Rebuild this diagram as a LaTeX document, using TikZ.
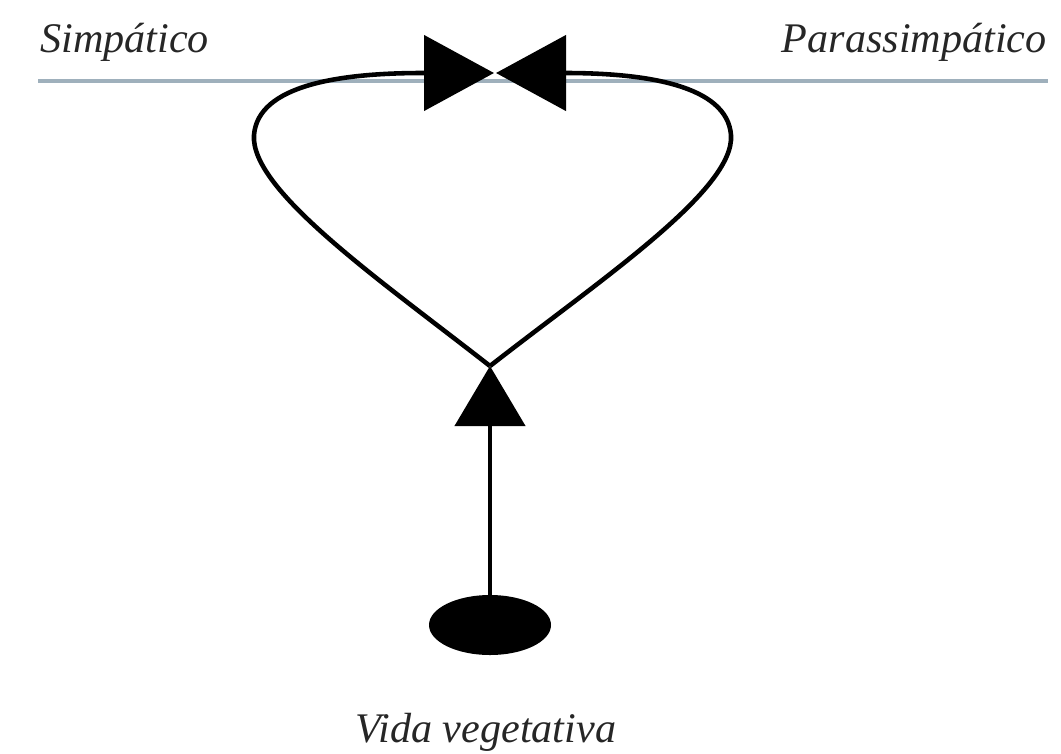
\documentclass[tikz,border=0pt]{standalone}
\usepackage{fontspec}
\setmainfont{Liberation Serif}
\usetikzlibrary{arrows.meta,shapes.geometric}
\definecolor{rulecol}{HTML}{9FB0BC}
\definecolor{txtcol}{HTML}{262626}
\begin{document}
\begin{tikzpicture}[x=0.03cm,y=-0.03cm,
  conn/.style={line width=3.9pt, black},
  bowtip/.style={-{Triangle[length=2.1cm,width=2.25cm]}},
  uptip/.style={-{Triangle[length=1.8cm,width=2.1cm]}},
  lab/.style={font=\fontsize{36}{40}\selectfont\itshape, text=txtcol, inner sep=0pt}]
\useasboundingbox (0,0) rectangle (1061,754);
% horizontal rule
\coordinate (rl) at (38,81);
\coordinate (rr) at (1048,81);
\draw[rulecol, line width=2.8pt] (rl) -- (rr);
% labels
\node[lab, anchor=base west] (simp) at (40,52) {Simpático};
\node[lab, anchor=base east] (para) at (1047,52) {Parassimpático};
% loop
\coordinate (v) at (490,366);
\coordinate (tl) at (494,73);
\coordinate (tr) at (496,73);
\draw[conn, bowtip] (v) .. controls (380,280) and (250,190) .. (254,135)
  .. controls (258,85) and (340,73) .. (423,73) -- (tl);
\draw[conn, bowtip] (v) .. controls (600,280) and (735,190) .. (731,135)
  .. controls (727,85) and (645,73) .. (565,73) -- (tr);
% vegetative source
\node[ellipse, fill=black, minimum width=3.66cm, minimum height=1.8cm, inner sep=0pt] (veg) at (490,625) {};
\draw[conn, uptip] (veg.north) -- (v);
\node[lab, anchor=base] (lbl) at (486,742) {Vida vegetativa};
\end{tikzpicture}
\end{document}
